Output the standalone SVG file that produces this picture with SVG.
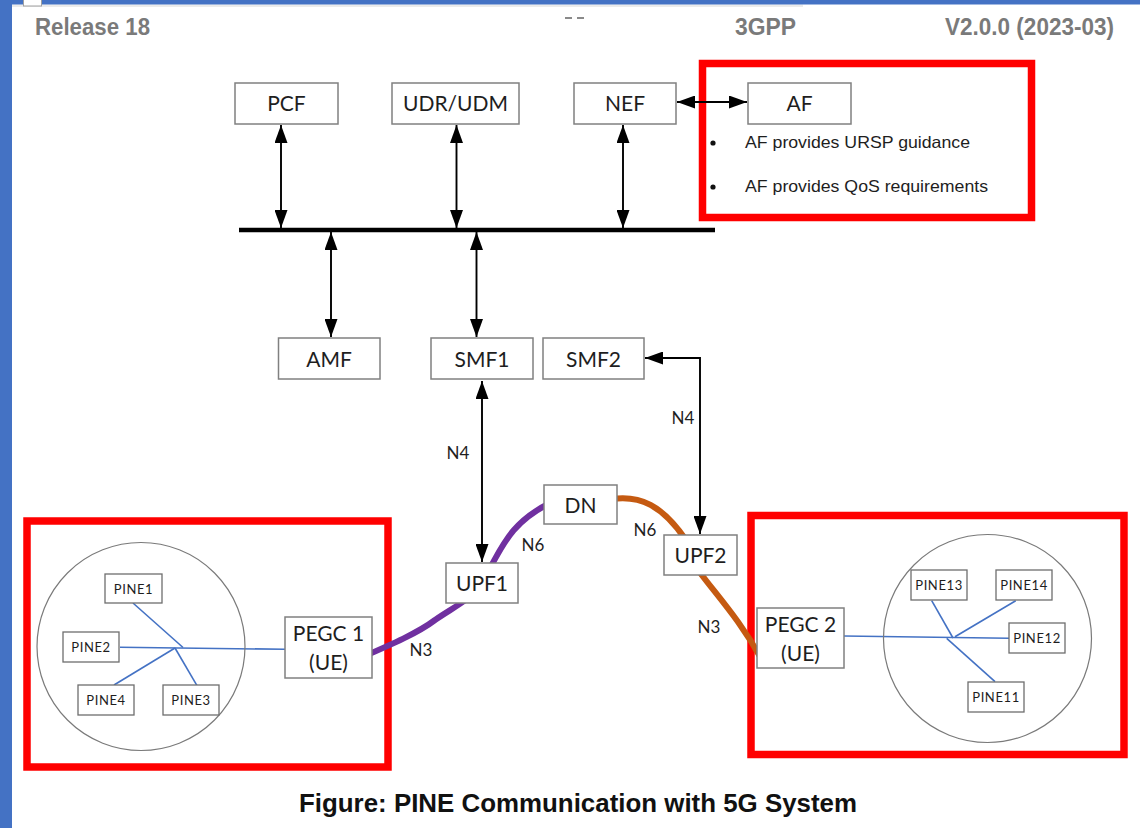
<svg xmlns="http://www.w3.org/2000/svg" width="1140" height="828" viewBox="0 0 1140 828">
  <style>
    .box { fill: #ffffff; stroke: #808080; stroke-width: 1.5; }
    .pine { fill: #ffffff; stroke: #6e6e6e; stroke-width: 1.3; }
    .lbl { font-family: Lato, "Open Sans", sans-serif; font-size: 21px; fill: #1e1e1e; text-anchor: middle; }
    .plbl { font-family: Lato, "Open Sans", sans-serif; font-size: 13px; letter-spacing: 0.6px; fill: #1e1e1e; text-anchor: middle; }
    .ref { font-family: Lato, "Open Sans", sans-serif; font-size: 17px; fill: #1e1e1e; text-anchor: middle; }
    .hdr { font-family: "Liberation Sans", Arial, sans-serif; font-weight: bold; font-size: 23px; fill: #7a7a7a; }
    .note { font-family: "Liberation Sans", Arial, sans-serif; font-size: 16.5px; fill: #1e1e1e; }
    .cap { font-family: "Liberation Sans", Arial, sans-serif; font-weight: bold; font-size: 25px; fill: #111111; }
    .arr { fill: none; stroke: #000000; stroke-width: 1.9; marker-start: url(#head); marker-end: url(#head); }
    .bus { stroke: #000000; stroke-width: 4.5; }
    .mark { fill: none; stroke: #ff0000; stroke-width: 7.5; }
    .lan { stroke: #4472c4; stroke-width: 1.6; fill: none; }
    .cloud { fill: none; stroke: #7a7a7a; stroke-width: 1.2; }
  </style>
  <defs>
    <marker id="head" markerUnits="userSpaceOnUse" markerWidth="18" markerHeight="13" refX="18" refY="6.5" orient="auto-start-reverse">
      <path d="M0,0 L18,6.5 L0,13 z" fill="#000000"/>
    </marker>
  </defs>

  <!-- page background and frame -->
  <rect x="0" y="0" width="1140" height="828" fill="#ffffff"/>
  <rect x="12" y="4.5" width="791" height="2.5" fill="#ebebeb"/>
  <rect x="0" y="0" width="1140" height="4.5" fill="#4472c4"/>
  <rect x="0" y="0" width="12" height="828" fill="#4472c4"/>
  <rect x="23.5" y="-4" width="18" height="10" fill="#ffffff" stroke="#a0a0a0" stroke-width="1"/>

  <!-- page header -->
  <g id="header">
    <text class="hdr" x="35" y="35" textLength="115" lengthAdjust="spacingAndGlyphs">Release 18</text>
    <rect x="565" y="17" width="7" height="2" fill="#8a8a8a"/>
    <rect x="577" y="17" width="7" height="2" fill="#8a8a8a"/>
    <text class="hdr" x="735" y="35" textLength="61" lengthAdjust="spacingAndGlyphs">3GPP</text>
    <text class="hdr" x="945" y="35" textLength="169" lengthAdjust="spacingAndGlyphs">V2.0.0 (2023-03)</text>
  </g>

  <!-- highlight frames -->
  <g id="highlights">
    <rect class="mark" x="702.5" y="63.5" width="329" height="154"/>
    <rect class="mark" x="27" y="521" width="361" height="246"/>
    <rect class="mark" x="751" y="515.5" width="373" height="239"/>
  </g>

  <!-- connectors -->
  <g id="connectors">
    <line class="bus" x1="239" y1="230" x2="715" y2="230"/>
    <line class="arr" x1="281" y1="125" x2="281" y2="228"/>
    <line class="arr" x1="456.5" y1="125" x2="456.5" y2="228"/>
    <line class="arr" x1="623" y1="125" x2="623" y2="228"/>
    <line class="arr" x1="331" y1="232" x2="331" y2="337"/>
    <line class="arr" x1="476.5" y1="232" x2="476.5" y2="337"/>
    <line class="arr" x1="677" y1="102" x2="747" y2="102"/>
    <line class="arr" x1="482" y1="381" x2="482" y2="562"/>
    <path class="arr" d="M645,358 H700 V534"/>

    <!-- user plane paths -->
    <path d="M360,658 C390,645 418,633 435,620 C448,611 458,606 468,598" fill="none" stroke="#7030a0" stroke-width="6"/>
    <path d="M490,568 C503,545 512,522 550,503" fill="none" stroke="#7030a0" stroke-width="6"/>
    <path d="M612,499 C640,495 662,505 686,540" fill="none" stroke="#c55a11" stroke-width="6"/>
    <path d="M698,570 C718,597 740,620 762,660" fill="none" stroke="#c55a11" stroke-width="6"/>

    <!-- PIN local links -->
    <line class="lan" x1="120" y1="647.3" x2="285" y2="649.3"/>
    <line class="lan" x1="133" y1="603" x2="183" y2="647.5"/>
    <line class="lan" x1="114" y1="685" x2="175" y2="648"/>
    <line class="lan" x1="197" y1="685.7" x2="175" y2="648"/>
    <line class="lan" x1="844" y1="636" x2="1009" y2="638.3"/>
    <line class="lan" x1="931.7" y1="600.7" x2="953" y2="638"/>
    <line class="lan" x1="1015.7" y1="600.7" x2="955" y2="636.7"/>
    <line class="lan" x1="995" y1="681.7" x2="946.7" y2="638.3"/>

    <!-- reference point labels -->
    <text class="ref" x="458" y="459">N4</text>
    <text class="ref" x="683" y="424">N4</text>
    <text class="ref" x="533" y="551">N6</text>
    <text class="ref" x="645" y="536">N6</text>
    <text class="ref" x="421" y="656">N3</text>
    <text class="ref" x="709" y="633">N3</text>
  </g>

  <!-- PIN boundaries -->
  <g id="pin1-area">
    <circle class="cloud" cx="141" cy="646.5" r="104"/>
  </g>
  <g id="pin2-area">
    <circle class="cloud" cx="987.5" cy="638.5" r="104"/>
  </g>

  <!-- control plane functions -->
  <g id="pcf"><rect class="box" x="235" y="83" width="103" height="41"/><text class="lbl" x="286.5" y="111">PCF</text></g>
  <g id="udr-udm"><rect class="box" x="392" y="83" width="127" height="41"/><text class="lbl" x="455.5" y="111">UDR/UDM</text></g>
  <g id="nef"><rect class="box" x="574" y="83" width="102" height="41"/><text class="lbl" x="625" y="111">NEF</text></g>
  <g id="af">
    <rect class="box" x="748" y="83" width="103" height="41"/>
    <text class="lbl" x="799.5" y="111">AF</text>
    <circle cx="713" cy="143" r="2.6" fill="#111111"/>
    <text class="note" x="745" y="148" textLength="225" lengthAdjust="spacingAndGlyphs">AF provides URSP guidance</text>
    <circle cx="713" cy="187" r="2.6" fill="#111111"/>
    <text class="note" x="745" y="192" textLength="243" lengthAdjust="spacingAndGlyphs">AF provides QoS requirements</text>
  </g>
  <g id="amf"><rect class="box" x="278.5" y="338" width="101.5" height="41"/><text class="lbl" x="329" y="367">AMF</text></g>
  <g id="smf1"><rect class="box" x="431" y="338" width="102" height="41"/><text class="lbl" x="482" y="367">SMF1</text></g>
  <g id="smf2"><rect class="box" x="543" y="338" width="101" height="41"/><text class="lbl" x="593.5" y="367">SMF2</text></g>

  <!-- user plane functions -->
  <g id="dn"><rect class="box" x="544" y="485" width="73" height="39"/><text class="lbl" x="580.5" y="513">DN</text></g>
  <g id="upf1"><rect class="box" x="446" y="563" width="72" height="40"/><text class="lbl" x="482" y="590.5">UPF1</text></g>
  <g id="upf2"><rect class="box" x="664" y="535" width="73" height="40"/><text class="lbl" x="700.5" y="562.5">UPF2</text></g>

  <!-- gateways -->
  <g id="pegc1">
    <rect class="box" x="285" y="617" width="87" height="61"/>
    <text class="lbl" x="328.5" y="641">PEGC 1</text>
    <text class="lbl" x="328.5" y="670">(UE)</text>
  </g>
  <g id="pegc2">
    <rect class="box" x="757" y="608" width="87" height="60"/>
    <text class="lbl" x="800.5" y="632">PEGC 2</text>
    <text class="lbl" x="800.5" y="661">(UE)</text>
  </g>

  <!-- PIN elements -->
  <g id="pine1"><rect class="pine" x="105" y="574" width="57" height="29"/><text class="plbl" x="133.5" y="593.5">PINE1</text></g>
  <g id="pine2"><rect class="pine" x="63" y="632" width="56" height="30"/><text class="plbl" x="91" y="652">PINE2</text></g>
  <g id="pine4"><rect class="pine" x="78" y="685" width="56" height="30"/><text class="plbl" x="106" y="705">PINE4</text></g>
  <g id="pine3"><rect class="pine" x="163" y="685" width="56" height="30"/><text class="plbl" x="191" y="705">PINE3</text></g>
  <g id="pine13"><rect class="pine" x="911" y="570" width="56" height="30"/><text class="plbl" x="939" y="590">PINE13</text></g>
  <g id="pine14"><rect class="pine" x="996" y="570" width="56" height="30"/><text class="plbl" x="1024" y="590">PINE14</text></g>
  <g id="pine12"><rect class="pine" x="1009" y="623" width="56" height="30"/><text class="plbl" x="1037" y="643">PINE12</text></g>
  <g id="pine11"><rect class="pine" x="968" y="682" width="56" height="30"/><text class="plbl" x="996" y="702">PINE11</text></g>

  <!-- caption -->
  <text class="cap" x="299" y="812" textLength="558" lengthAdjust="spacingAndGlyphs">Figure: PINE Communication with 5G System</text>
</svg>
